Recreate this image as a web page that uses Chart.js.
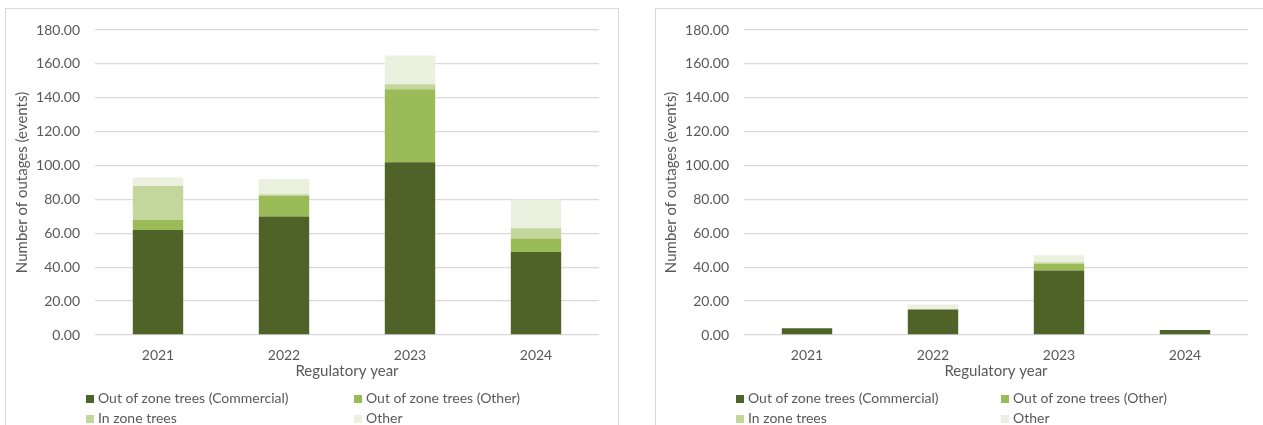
<!DOCTYPE html>
<html>
<head>
<meta charset="utf-8">
<script src="https://cdn.jsdelivr.net/npm/chart.js@4.4.1/dist/chart.umd.min.js"></script>
<style>
  html, body { margin: 0; padding: 0; background: #fff; overflow: hidden; }
  body { width: 1263px; height: 425px; position: relative; font-family: Lato, "Open Sans", sans-serif; }
  .panel { position: absolute; top: 8px; height: 440px; border: 1px solid #d9d9d9; box-sizing: border-box; }
  .chart-box { position: absolute; top: 0; height: 425px; }
  .legend { position: absolute; font-size: 14px; color: #595959; }
  .legend-item { position: absolute; white-space: nowrap; line-height: 20px; }
  .legend-item i { display: inline-block; width: 8px; height: 8px; margin-right: 4px; vertical-align: 0px; }
</style>
</head>
<body>
<div class="panel" style="left:5px; width:614px;"></div>
<div class="panel" style="left:655px; width:620px;"></div>

<div class="chart-box" style="left:0; width:640px;"><canvas id="allChart"></canvas></div>
<div class="chart-box" style="left:650px; width:613px;"><canvas id="subChart"></canvas></div>

<div class="legend" id="allLegend" style="left:86px; top:388px;"></div>
<div class="legend" id="subLegend" style="left:736px; top:388px;"></div>

<script>
// Categories and tick labels
const years = ['2021', '2022', '2023', '2024'];
const yTicks = [0, 20, 40, 60, 80, 100, 120, 140, 160, 180];
const seriesNames = ['Out of zone trees (Commercial)', 'Out of zone trees (Other)', 'In zone trees', 'Other'];
const seriesColors = ['#4f6228', '#9bbb59', '#c3d69b', '#ebf1de'];

// Left chart: all outages
const allCommercial = [62, 70, 102, 49];
const allOozOther = [6, 12, 43, 8];
const allInZone = [20, 1, 3, 6];
const allOther = [5, 9, 17, 17];

// Right chart
const subCommercial = [4, 15, 38, 3];
const subOozOther = [0, 0, 4, 0];
const subInZone = [0, 0, 1, 0];
const subOther = [0, 3, 4, 0];

const textColor = '#595959';
const fontFamily = 'Lato, "Open Sans", sans-serif';

function makeChart(canvasId, seriesData, yAxisWidth, rightPad, yTitlePad) {
    const ctx = document.getElementById(canvasId).getContext('2d');
    return new Chart(ctx, {
        type: 'bar',
        data: {
            labels: years,
            datasets: seriesData.map((values, i) => ({
                label: seriesNames[i],
                data: values,
                backgroundColor: seriesColors[i],
                borderWidth: 0,
                barPercentage: 0.4,
                categoryPercentage: 1.0
            }))
        },
        options: {
            responsive: true,
            maintainAspectRatio: false,
            animation: false,
            layout: { padding: { top: 30, right: rightPad, bottom: 45, left: 0 } },
            plugins: {
                legend: { display: false },
                tooltip: { enabled: false }
            },
            scales: {
                x: {
                    stacked: true,
                    grid: { display: false, drawTicks: false },
                    border: { display: false },
                    ticks: {
                        color: textColor,
                        padding: 12,
                        font: { family: fontFamily, size: 14 }
                    },
                    title: {
                        display: true,
                        text: 'Regulatory year',
                        color: textColor,
                        padding: 0,
                        font: { family: fontFamily, size: 15 }
                    },
                    afterFit: function(scale) { scale.height = 45; }
                },
                y: {
                    stacked: true,
                    min: 0,
                    max: 180,
                    afterBuildTicks: function(scale) {
                        scale.ticks = yTicks.map(v => ({ value: v }));
                    },
                    grid: { color: '#d9d9d9', lineWidth: 1.3, drawTicks: false },
                    border: { display: false },
                    ticks: {
                        color: textColor,
                        padding: 15,
                        font: { family: fontFamily, size: 14 },
                        callback: function(value) {
                            return Number(value).toFixed(2);
                        }
                    },
                    title: {
                        display: true,
                        text: 'Number of outages (events)',
                        color: textColor,
                        padding: { top: yTitlePad, bottom: 0 },
                        font: { family: fontFamily, size: 15 }
                    },
                    afterFit: function(scale) { scale.width = yAxisWidth; }
                }
            }
        }
    });
}

// Legend in two columns below each chart
function buildLegend(id, colOffset) {
    const box = document.getElementById(id);
    seriesNames.forEach((name, i) => {
        const item = document.createElement('div');
        item.className = 'legend-item';
        item.style.left = (i % 2 === 0 ? 0 : colOffset) + 'px';
        item.style.top = (Math.floor(i / 2) * 20) + 'px';
        item.innerHTML = '<i style="background:' + seriesColors[i] + '"></i>' + name;
        box.appendChild(item);
    });
}

makeChart('allChart', [allCommercial, allOozOther, allInZone, allOther], 95, 41, 13);
makeChart('subChart', [subCommercial, subOozOther, subInZone, subOther], 94, 15, 12);
buildLegend('allLegend', 268);
buildLegend('subLegend', 265);
</script>
</body>
</html>
